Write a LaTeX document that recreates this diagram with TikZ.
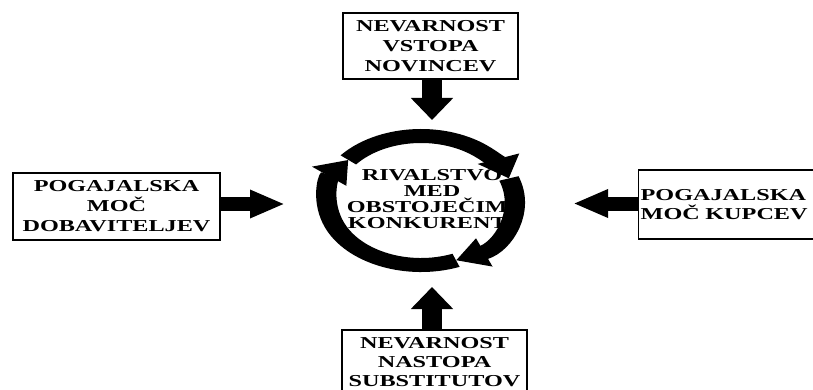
\documentclass[tikz,border=0pt]{standalone}
\usepackage{fontspec}
\setmainfont{Liberation Serif}[FakeStretch=1.45]
\usetikzlibrary{arrows.meta}

\begin{document}
\begin{tikzpicture}[x=1pt,y=-1pt,
	box/.style={draw,line width=1.3pt,inner sep=0pt,align=center,font=\bfseries\fontsize{16.7}{20}\selectfont},
	harrow/.style={line width=14pt,-{Triangle[width=26pt,length=35pt]}},
	varrow/.style={line width=20pt,-{Triangle[width=41pt,length=22pt]}},
	ringarc/.style={line width=14pt,-{Triangle[width=29pt,length=21pt]}}]
	\useasboundingbox (0,0) rectangle (813,390);
	\coordinate (ring) at (421,200.5);
	\coordinate (ltip) at (285,204);
	\coordinate (rtip) at (573,203.5);
	\coordinate (ttip) at (432,120);
	\coordinate (btip) at (432,287);
	% the ring of three arrows
	\begin{scope}[transform canvas={shift={(ring)},xscale=1.45}]
		\draw[ringarc] (-141:64.5) arc[start angle=-141,end angle=-20,radius=64.5];
		\draw[ringarc] (-20:64.5) arc[start angle=-20,end angle=68,radius=64.5];
		\draw[ringarc] (68:64.5) arc[start angle=68,end angle=219,radius=64.5];
	\end{scope}
	\node[align=center,font=\bfseries\fontsize{16.7}{16}\selectfont] (riv) at (432,199) {RIVALSTVO\\MED\\OBSTOJEČIMI\\KONKURENTI};
	% the four forces
	\node[box,minimum width=207pt,minimum height=67pt] (dob) at (116.5,206.5) {POGAJALSKA\\MOČ\\DOBAVITELJEV};
	\node[box,minimum width=175pt,minimum height=66pt] (nov) at (430.5,46) {NEVARNOST\\VSTOPA\\NOVINCEV};
	\node[box,anchor=west,minimum width=192pt,minimum height=69pt,text width=188pt,align=left,inner xsep=1.5pt,font=\bfseries\fontsize{16.7}{19}\selectfont] (kup) at (638,204.5) {POGAJALSKA\\MOČ KUPCEV};
	\node[box,minimum width=185pt,minimum height=64pt,font=\bfseries\fontsize{16.7}{19}\selectfont] (sub) at (434.5,362) {NEVARNOST\\NASTOPA\\SUBSTITUTOV};
	\draw[harrow] (dob.east |- ltip) -- (ltip);
	\draw[harrow] (kup.west |- rtip) -- (rtip);
	\draw[varrow] (nov.south -| ttip) -- (ttip);
	\draw[varrow] (sub.north -| btip) -- (btip);
\end{tikzpicture}
\end{document}
